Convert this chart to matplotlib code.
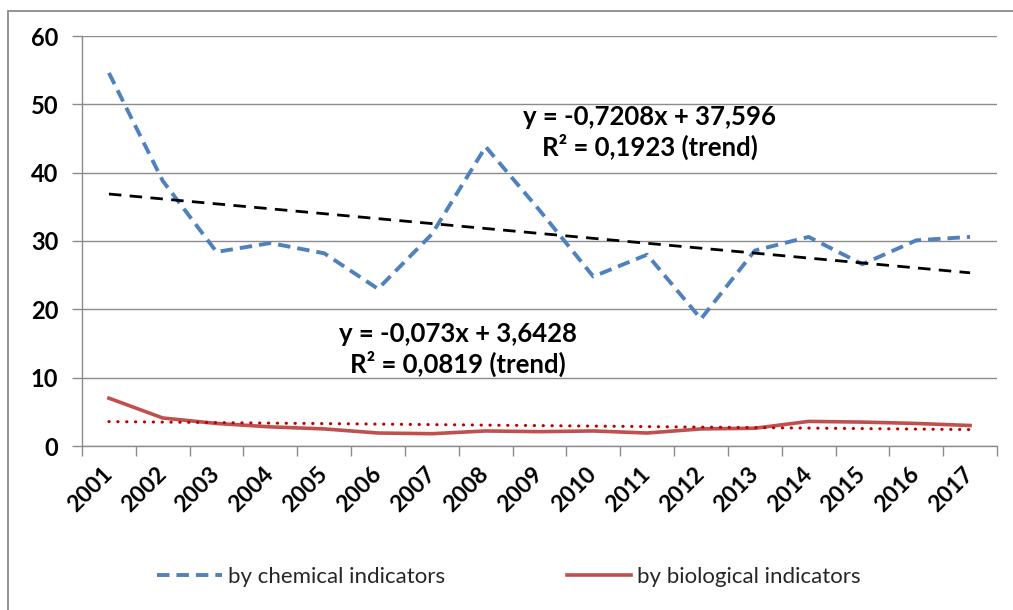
import matplotlib
matplotlib.use("Agg")
import matplotlib.pyplot as plt
from matplotlib.patches import Rectangle
from matplotlib.ticker import FixedLocator, NullFormatter
import numpy as np

years = ["2001", "2002", "2003", "2004", "2005", "2006", "2007", "2008", "2009",
         "2010", "2011", "2012", "2013", "2014", "2015", "2016", "2017"]
chemical = [54.6, 38.8, 28.4, 29.7, 28.2, 23.0, 31.0, 43.8, 34.5,
            24.8, 28.0, 18.6, 28.6, 30.6, 26.6, 30.1, 30.6]
biological = [7.0, 4.1, 3.3, 2.8, 2.5, 1.9, 1.8, 2.2, 2.1,
              2.2, 1.9, 2.5, 2.6, 3.6, 3.5, 3.3, 3.0]
chem_trend = (-0.7208, 37.596)
bio_trend = (-0.073, 3.6428)
chem_label = "by chemical indicators"
bio_label = "by biological indicators"
chem_eq = "y = -0,7208x + 37,596\nR² = 0,1923 (trend)"
bio_eq = "y = -0,073x + 3,6428\nR² = 0,0819 (trend)"

W, H = 1013, 610
fig = plt.figure(figsize=(W / 100, H / 100), dpi=100)
fig.patch.set_facecolor("white")

# outer chart frame
fig.add_artist(Rectangle((8 / W, -0.1), 1.2, 1.1 - 11 / H, transform=fig.transFigure,
                         fill=False, edgecolor="#8a8a8a", linewidth=1.3))

ax = fig.add_axes([82 / W, 1 - 446 / H, (997 - 82) / W, (446 - 36) / H])
x = np.arange(len(years))
xt = np.arange(1, len(years) + 1)

grid_c = "#8c8c8c"
ax.set_ylim(0, 60)
ax.set_xlim(-0.5, len(years) - 0.5)
ax.set_yticks(range(0, 61, 10))
ax.yaxis.grid(True, color=grid_c, linewidth=1.0)
ax.set_axisbelow(True)
for s in ["top", "right"]:
    ax.spines[s].set_visible(False)
for s in ["left", "bottom"]:
    ax.spines[s].set_color(grid_c)
    ax.spines[s].set_linewidth(1.0)

ax.set_xticks(x)
ax.set_xticklabels(years, rotation=45, ha="right", rotation_mode="anchor",
                   fontfamily="Lato", fontweight="bold", fontsize=16.5)
ax.xaxis.set_minor_locator(FixedLocator(np.arange(-0.5, len(years), 1.0)))
ax.xaxis.set_minor_formatter(NullFormatter())
ax.tick_params(axis="x", which="major", length=0, pad=18)
ax.tick_params(axis="x", which="minor", length=7, color=grid_c, width=1.0)
ax.tick_params(axis="y", length=7, color=grid_c, width=1.0, pad=10)
for lab in ax.get_yticklabels():
    lab.set_fontfamily("Lato")
    lab.set_fontweight("bold")
    lab.set_fontsize(17)
for lab in ax.get_xticklabels():
    lab.set_va("center")

ax.plot(x, chemical, color="#4F81BD", linewidth=2.8, linestyle=(0, (3.2, 1.8)),
        label=chem_label, dash_capstyle="butt")
ax.plot(x, biological, color="#C0504D", linewidth=2.6, label=bio_label)

ax.plot(x, chem_trend[0] * xt + chem_trend[1], color="black", linewidth=2.0,
        linestyle=(0, (4.5, 3)))
ax.plot(x, bio_trend[0] * xt + bio_trend[1], color="#C00000", linewidth=2.2,
        linestyle=(0, (0.1, 2.8)), dash_capstyle="round")

ax.text(10.05, 45.9, chem_eq, ha="center", va="center", fontfamily="Lato",
        fontweight="bold", fontsize=18.5, linespacing=1.2)
ax.text(6.48, 14.1, bio_eq, ha="center", va="center", fontfamily="Lato",
        fontweight="bold", fontsize=18.5, linespacing=1.2)

leg = fig.legend(loc="center", bbox_to_anchor=(0.5025, 1 - 577 / H), ncol=2,
                 frameon=False, prop={"family": "Lato", "size": 16},
                 handlelength=2.9, handletextpad=0.27, columnspacing=5.5)
for t in leg.get_texts():
    t.set_color("#262626")

fig.savefig("out.png", dpi=100, facecolor="white")
